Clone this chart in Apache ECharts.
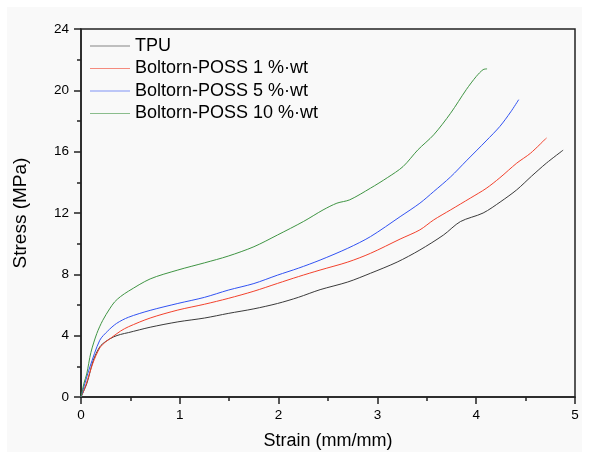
<!DOCTYPE html>
<html>
<head>
<meta charset="utf-8">
<script src="https://cdn.jsdelivr.net/npm/echarts@6/dist/echarts.min.js"></script>
<style>
  html, body { margin: 0; padding: 0; background: #fff; }
  #chart { width: 589px; height: 452px; }
</style>
</head>
<body>
<div id="chart"></div>
<script>
// stress-strain curves, [strain, stress]
var series_names = ['TPU', 'Boltorn-POSS 1 %\u00b7wt', 'Boltorn-POSS 5 %\u00b7wt', 'Boltorn-POSS 10 %\u00b7wt']
var series_colors = ['#3a3a3a', '#f2412c', '#3152f2', '#3f9443']

var tpu = [[0,0],[0.06,0.9],[0.125,2.4],[0.19,3.27],[0.25,3.62],[0.33,3.92],[0.4,4.08],[0.48,4.2],[0.7,4.55],[0.98,4.9],[1.25,5.15],[1.49,5.45],[1.75,5.75],[1.99,6.1],[2.2,6.5],[2.42,7.0],[2.7,7.5],[2.93,8.07],[3.2,8.8],[3.43,9.59],[3.67,10.57],[3.84,11.44],[4.07,12.0],[4.25,12.75],[4.41,13.51],[4.56,14.4],[4.71,15.25],[4.88,16.1]]
var poss_1 = [[0,0],[0.05,0.8],[0.12,2.2],[0.19,3.2],[0.25,3.6],[0.31,3.88],[0.4,4.3],[0.48,4.58],[0.7,5.15],[0.98,5.67],[1.25,6.05],[1.49,6.43],[1.75,6.9],[1.99,7.41],[2.2,7.85],[2.42,8.28],[2.7,8.8],[2.93,9.37],[3.23,10.3],[3.43,10.9],[3.57,11.55],[3.74,12.2],[3.94,12.97],[4.1,13.6],[4.24,14.3],[4.41,15.25],[4.55,15.9],[4.71,16.89]]
var poss_5 = [[0,0],[0.04,0.9],[0.09,1.96],[0.19,3.7],[0.27,4.3],[0.36,4.8],[0.48,5.2],[0.7,5.65],[0.98,6.1],[1.25,6.5],[1.49,6.97],[1.75,7.4],[1.99,7.95],[2.2,8.4],[2.42,8.93],[2.7,9.7],[2.93,10.46],[3.23,11.76],[3.43,12.64],[3.57,13.4],[3.74,14.35],[3.9,15.4],[4.1,16.7],[4.24,17.65],[4.35,18.6],[4.43,19.39]]
var poss_10 = [[0,0],[0.03,0.9],[0.058,1.5],[0.1,2.9],[0.16,4.14],[0.22,5.0],[0.29,5.75],[0.34,6.2],[0.4,6.55],[0.48,6.9],[0.7,7.7],[0.98,8.28],[1.25,8.75],[1.49,9.19],[1.75,9.8],[1.99,10.57],[2.25,11.44],[2.45,12.2],[2.59,12.64],[2.72,12.86],[2.93,13.62],[3.1,14.3],[3.26,15.03],[3.41,16.12],[3.57,17.1],[3.74,18.5],[3.9,20.05],[4.0,20.9],[4.07,21.35],[4.11,21.4]]
var all_data = [tpu, poss_1, poss_5, poss_10]

var font = 'Arial, "Liberation Sans", sans-serif'
var chart_div = echarts.init(document.getElementById('chart'))

var series = []
all_data.forEach(function(d, i){
  series.push({
    name: series_names[i],
    type: 'line',
    data: d,
    symbol: 'none',
    smooth: 0.3,
    lineStyle: { width: 1, color: series_colors[i] },
    itemStyle: { color: series_colors[i] }
  })
})

option = {
  animation: false,
  backgroundColor: '#fff',
  graphic: [{
    type: 'rect', z: -10,
    shape: { x: 7, y: 7, width: 575, height: 445 },
    style: { fill: '#f9f9f9' }
  }],
  grid: {
    left: 81, right: 14, top: 29, bottom: 55,
    outerBoundsMode: 'none',
    show: true, borderColor: '#222', borderWidth: 1.5,
    backgroundColor: 'transparent'
  },
  legend: {
    orient: 'vertical',
    left: 85, top: 32,
    icon: 'rect',
    itemWidth: 40, itemHeight: 1, itemGap: 4.5,
    data: series_names,
    itemStyle: { opacity: 0.6 },
    textStyle: { fontFamily: font, fontSize: 18, color: '#000' }
  },
  xAxis: {
    type: 'value', min: 0, max: 5, interval: 1,
    name: 'Strain (mm/mm)', nameLocation: 'middle', nameGap: 35,
    nameTextStyle: { fontFamily: font, fontSize: 18, color: '#000' },
    axisLine: { lineStyle: { color: '#222', width: 1.5 } },
    axisTick: { show: true, length: 7, lineStyle: { color: '#222', width: 1.5 } },
    minorTick: { show: true, splitNumber: 2, length: 4, lineStyle: { color: '#222', width: 1.5 } },
    axisLabel: { margin: 11, fontFamily: font, fontSize: 13.5, color: '#000' },
    splitLine: { show: false }
  },
  yAxis: {
    type: 'value', min: 0, max: 24, interval: 4,
    name: 'Stress (MPa)', nameLocation: 'middle', nameGap: 51,
    nameTextStyle: { fontFamily: font, fontSize: 19, color: '#000' },
    axisLine: { show: true, lineStyle: { color: '#222', width: 1.5 } },
    axisTick: { show: true, length: 7, lineStyle: { color: '#222', width: 1.5 } },
    minorTick: { show: true, splitNumber: 2, length: 4, lineStyle: { color: '#222', width: 1.5 } },
    axisLabel: { margin: 12, fontFamily: font, fontSize: 13.5, color: '#000' },
    splitLine: { show: false }
  },
  series: series
}

chart_div.setOption(option, true)
</script>
</body>
</html>
